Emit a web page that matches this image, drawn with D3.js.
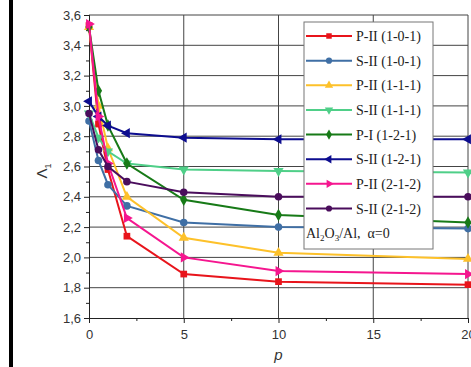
<!DOCTYPE html>
<html>
<head>
<meta charset="utf-8">
<style>
  body { margin: 0; background: #fff; }
  svg { display: block; }
  .tick-label { font-family: 'Liberation Sans', Arial, sans-serif; font-size: 13px; fill: #333; }
  .legend text { font-family: 'Liberation Serif', 'Times New Roman', serif; font-size: 14px; fill: #222; }
</style>
</head>
<body>
<svg id="chart" width="471" height="367"></svg>
<script src="https://d3js.org/d3.v7.min.js"></script>
<script>
// thickness parameter p (x axis)
const pValues = [0, 0.5, 1, 2, 5, 10, 20];

// Λ1 values for each mode
const pII_101 = [3.53, 2.88, 2.58, 2.14, 1.89, 1.84, 1.82];
const sII_101 = [2.90, 2.64, 2.48, 2.34, 2.23, 2.20, 2.19];
const pII_111 = [3.52, 3.00, 2.72, 2.40, 2.13, 2.03, 1.99];
const sII_111 = [2.95, 2.79, 2.70, 2.62, 2.58, 2.57, 2.56];
const pI_121  = [3.52, 3.10, 2.87, 2.62, 2.38, 2.28, 2.23];
const sII_121 = [3.03, 2.93, 2.87, 2.82, 2.79, 2.78, 2.78];
const pII_212 = [3.54, 2.93, 2.62, 2.26, 2.00, 1.91, 1.89];
const sII_212 = [2.95, 2.71, 2.60, 2.50, 2.43, 2.40, 2.40];

const seriesNames = ['P-II (1-0-1)', 'S-II (1-0-1)', 'P-II (1-1-1)', 'S-II (1-1-1)',
                     'P-I (1-2-1)', 'S-II (1-2-1)', 'P-II (2-1-2)', 'S-II (2-1-2)'];
const seriesValues = [pII_101, sII_101, pII_111, sII_111, pI_121, sII_121, pII_212, sII_212];

const yTicks = [1.6, 1.8, 2.0, 2.2, 2.4, 2.6, 2.8, 3.0, 3.2, 3.4, 3.6];
const xTicks = [0, 5, 10, 15, 20];

// styling, kept apart from the data
const colors = ['#e8141b', '#3f6fa5', '#fdc12a', '#4fcf88', '#177a17', '#0d0d8f', '#f5168f', '#4a0d5c'];
const shapes = [
  { type: d3.symbolSquare, rot: 0 },
  { type: d3.symbolCircle, rot: 0 },
  { type: d3.symbolTriangle, rot: 0 },
  { type: d3.symbolTriangle, rot: 180 },
  { type: d3.symbolDiamond, rot: 0 },
  { type: d3.symbolTriangle, rot: -90 },
  { type: d3.symbolTriangle, rot: 90 },
  { type: d3.symbolCircle, rot: 0 }
];

const series = seriesNames.map((name, i) => ({
  name,
  color: colors[i],
  shape: shapes[i],
  points: pValues.map((p, j) => ({ p, v: seriesValues[i][j] }))
}));

const svg = d3.select('#chart');

// black strip on the left edge of the scan
svg.append('rect').attr('x', 9).attr('y', 0).attr('width', 4).attr('height', 367).attr('fill', '#000');

const x = d3.scaleLinear().domain([0, 20]).range([89, 468]);
const y = d3.scaleLinear().domain([1.6, 3.6]).range([318, 15]);

const fmt = d => d3.format('.1f')(d).replace('.', ',');

// grid
svg.append('g').selectAll('line')
  .data(yTicks.slice(1))
  .join('line')
  .attr('x1', x(0)).attr('x2', x(20))
  .attr('y1', d => y(d)).attr('y2', d => y(d))
  .attr('stroke', '#444').attr('stroke-width', 1);

svg.append('g').selectAll('line')
  .data(xTicks.slice(1))
  .join('line')
  .attr('x1', d => x(d)).attr('x2', d => x(d))
  .attr('y1', y(1.6)).attr('y2', y(3.6))
  .attr('stroke', '#444').attr('stroke-width', 1);

// axes
const yAxis = svg.append('g')
  .attr('transform', `translate(${x(0)},0)`)
  .call(d3.axisLeft(y).tickValues(yTicks).tickFormat(fmt).tickSize(5).tickPadding(3));
yAxis.append('g').call(d3.axisLeft(y).tickValues(d3.range(1.7, 3.6, 0.2)).tickFormat('').tickSize(3));

const xAxis = svg.append('g')
  .attr('transform', `translate(0,${y(1.6)})`)
  .call(d3.axisBottom(x).tickValues(xTicks).tickSize(5).tickPadding(7));
xAxis.append('g').call(d3.axisBottom(x).tickValues([2.5, 7.5, 12.5, 17.5]).tickFormat('').tickSize(3));

[yAxis, xAxis].forEach(a => {
  a.selectAll('.domain').attr('stroke', '#222');
  a.selectAll('line').attr('stroke', '#222');
  a.selectAll('text').attr('class', 'tick-label').attr('font-size', null).attr('font-family', null);
});

// axis titles
svg.append('text')
  .attr('transform', 'translate(47,171) rotate(-90)')
  .attr('text-anchor', 'middle')
  .attr('font-family', "'Liberation Sans', Arial, sans-serif")
  .attr('font-size', 15).attr('fill', '#333')
  .html('Λ<tspan font-size="9" dy="4">1</tspan>');

svg.append('text')
  .attr('x', x(10)).attr('y', 360)
  .attr('text-anchor', 'middle')
  .attr('font-family', "'Liberation Sans', Arial, sans-serif")
  .attr('font-style', 'italic')
  .attr('font-size', 15).attr('fill', '#333')
  .text('p');

// lines
const line = d3.line().x(d => x(d.p)).y(d => y(d.v));
const symbol = d3.symbol().size(45);

const g = svg.append('g').selectAll('g').data(series).join('g');
g.append('path')
  .attr('d', d => line(d.points))
  .attr('fill', 'none')
  .attr('stroke', d => d.color)
  .attr('stroke-width', 2);
g.each(function(s) {
  d3.select(this).selectAll('path.mk')
    .data(s.points)
    .join('path')
    .attr('class', 'mk')
    .attr('transform', d => `translate(${x(d.p)},${y(d.v)}) rotate(${s.shape.rot})`)
    .attr('d', symbol.type(s.shape.type)())
    .attr('fill', s.color);
});

// legend
const legend = svg.append('g').attr('class', 'legend');
legend.append('rect')
  .attr('x', 304).attr('y', 22).attr('width', 129).attr('height', 227)
  .attr('fill', '#fff').attr('stroke', '#777').attr('stroke-width', 1);

const row = d3.scaleLinear().domain([0, 7]).range([36, 208.5]);
const item = legend.selectAll('g.item').data(series).join('g')
  .attr('class', 'item')
  .attr('transform', (d, i) => `translate(0,${row(i)})`);
item.append('line')
  .attr('x1', 306).attr('x2', 352)
  .attr('stroke', d => d.color).attr('stroke-width', 2);
item.append('path')
  .attr('transform', d => `translate(329,0) rotate(${d.shape.rot})`)
  .attr('d', d => d3.symbol().size(30).type(d.shape.type)())
  .attr('fill', d => d.color);
item.append('text')
  .attr('x', 356).attr('y', 5)
  .text(d => d.name);

legend.append('text')
  .attr('x', 306).attr('y', 238)
  .html('Al<tspan font-size="9" dy="3">2</tspan><tspan dy="-3">O</tspan><tspan font-size="9" dy="3">3</tspan><tspan dy="-3">/Al,&#160;&#160;α=0</tspan>');
</script>
</body>
</html>
